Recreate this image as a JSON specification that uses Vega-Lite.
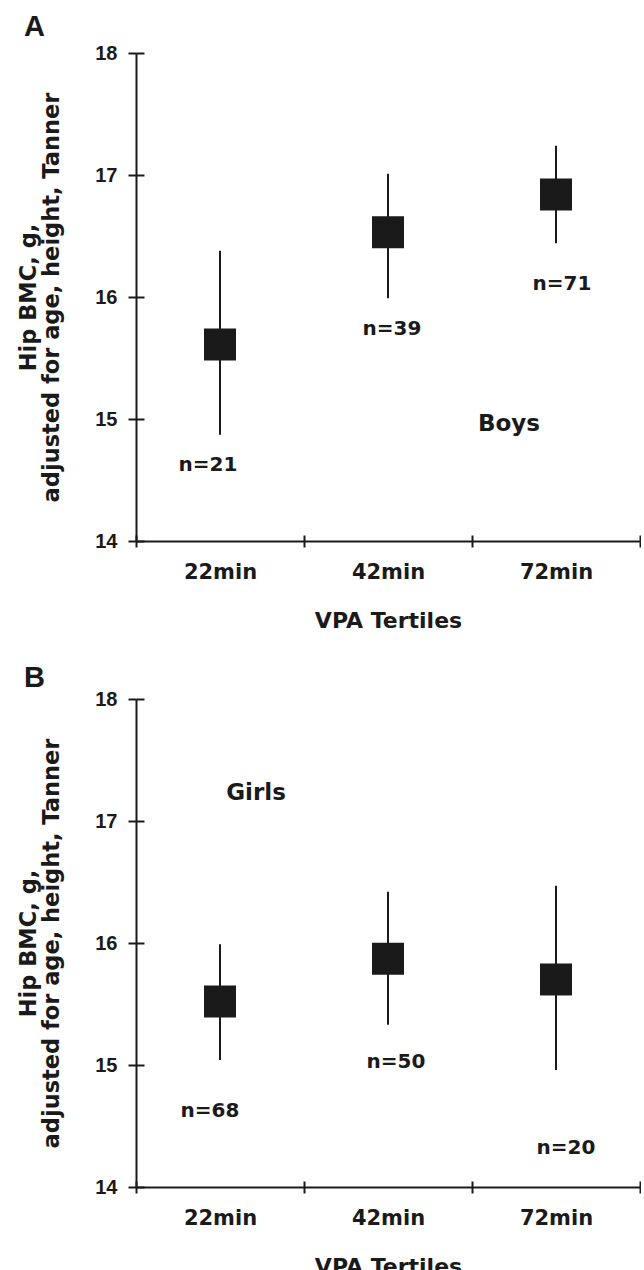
{
  "$schema": "https://vega.github.io/schema/vega-lite/v6.json",
  "padding": {"left": 17, "top": 13, "right": 0, "bottom": 0},
  "background": "white",
  "datasets": {
    "boys": [
      {"tertile": "22min", "mean": 15.61, "lower": 14.87, "upper": 16.38, "label": "n=21"},
      {"tertile": "42min", "mean": 16.53, "lower": 15.99, "upper": 17.01, "label": "n=39"},
      {"tertile": "72min", "mean": 16.84, "lower": 16.44, "upper": 17.24, "label": "n=71"}
    ],
    "girls": [
      {"tertile": "22min", "mean": 15.52, "lower": 15.04, "upper": 15.99, "label": "n=68"},
      {"tertile": "42min", "mean": 15.87, "lower": 15.33, "upper": 16.42, "label": "n=50"},
      {"tertile": "72min", "mean": 15.70, "lower": 14.96, "upper": 16.47, "label": "n=20"}
    ]
  },
  "config": {
    "view": {"stroke": null},
    "axis": {
      "grid": false,
      "domainColor": "#1a1a1a",
      "domainWidth": 2,
      "tickColor": "#1a1a1a",
      "tickWidth": 2,
      "labelColor": "#1a1a1a",
      "titleColor": "#1a1a1a",
      "titleFont": "DejaVu Sans",
      "titleFontWeight": "bold"
    },
    "text": {"font": "DejaVu Sans", "fontWeight": "bold", "color": "#1a1a1a", "baseline": "middle", "align": "center"}
  },
  "spacing": 33,
  "vconcat": [
    {
      "title": {"text": "A", "anchor": "start", "frame": "group", "dx": -112, "offset": -22, "baseline": "alphabetic", "font": "Liberation Sans", "fontSize": 29, "fontWeight": "bold", "color": "#1a1a1a"},
      "width": 504,
      "height": 488,
      "data": {"name": "boys"},
      "resolve": {"axis": {"x": "independent", "y": "independent"}},
      "layer": [
        {
          "mark": {"type": "rule", "color": "#1a1a1a", "strokeWidth": 2},
          "encoding": {
            "x": {"field": "tertile", "type": "nominal", "sort": ["22min", "42min", "72min"], "scale": {"paddingInner": 0, "paddingOuter": 0},
              "axis": {"orient": "bottom", "title": "VPA Tertiles", "titleFontSize": 22, "titlePadding": 28, "labelAngle": 0, "labelFont": "DejaVu Sans", "labelFontWeight": "bold", "labelFontSize": 21, "labelPadding": 14, "tickSize": 6, "tickBand": "extent"}},
            "y": {"field": "lower", "type": "quantitative", "scale": {"domain": [14, 18], "nice": false, "zero": false},
              "axis": {"orient": "left", "values": [14, 15, 16, 17, 18], "format": "d", "title": ["Hip BMC, g,", "adjusted for age, height, Tanner"], "titleFontSize": 22.5, "titleLineHeight": 23, "titlePadding": 31, "labelFont": "Liberation Sans", "labelFontWeight": "bold", "labelFontSize": 20, "labelPadding": 11, "tickSize": 8}},
            "y2": {"field": "upper"}
          }
        },
        {
          "mark": {"type": "square", "size": 1024, "color": "#1a1a1a", "opacity": 1, "filled": true},
          "encoding": {
            "x": {"field": "tertile", "type": "nominal", "sort": ["22min", "42min", "72min"],
              "axis": {"orient": "bottom", "domain": false, "labels": false, "title": null, "tickSize": -6, "tickBand": "extent"}},
            "y": {"field": "mean", "type": "quantitative",
              "axis": {"orient": "left", "domain": false, "labels": false, "title": null, "values": [14, 15, 16, 17, 18], "tickSize": -8}}
          }
        },
        {
          "transform": [{"filter": "datum.tertile === '22min'"}],
          "mark": {"type": "text", "fontSize": 20, "dx": -12, "dy": 30},
          "encoding": {"x": {"field": "tertile", "type": "nominal", "axis": null}, "y": {"field": "lower", "type": "quantitative", "axis": null}, "text": {"field": "label"}}
        },
        {
          "transform": [{"filter": "datum.tertile === '42min'"}],
          "mark": {"type": "text", "fontSize": 20, "dx": 4, "dy": 31},
          "encoding": {"x": {"field": "tertile", "type": "nominal", "axis": null}, "y": {"field": "lower", "type": "quantitative", "axis": null}, "text": {"field": "label"}}
        },
        {
          "transform": [{"filter": "datum.tertile === '72min'"}],
          "mark": {"type": "text", "fontSize": 20, "dx": 6, "dy": 41},
          "encoding": {"x": {"field": "tertile", "type": "nominal", "axis": null}, "y": {"field": "lower", "type": "quantitative", "axis": null}, "text": {"field": "label"}}
        },
        {
          "data": {"values": [{"note": "Boys", "tertile": "72min", "value": 14.96}]},
          "mark": {"type": "text", "fontSize": 23, "dx": -47},
          "encoding": {"x": {"field": "tertile", "type": "nominal", "axis": null}, "y": {"field": "value", "type": "quantitative", "axis": null}, "text": {"field": "note"}}
        }
      ]
    },
    {
      "title": {"text": "B", "anchor": "start", "frame": "group", "dx": -112, "offset": -27, "baseline": "alphabetic", "font": "Liberation Sans", "fontSize": 29, "fontWeight": "bold", "color": "#1a1a1a"},
      "width": 504,
      "height": 488,
      "data": {"name": "girls"},
      "resolve": {"axis": {"x": "independent", "y": "independent"}},
      "layer": [
        {
          "mark": {"type": "rule", "color": "#1a1a1a", "strokeWidth": 2},
          "encoding": {
            "x": {"field": "tertile", "type": "nominal", "sort": ["22min", "42min", "72min"], "scale": {"paddingInner": 0, "paddingOuter": 0},
              "axis": {"orient": "bottom", "title": "VPA Tertiles", "titleFontSize": 22, "titlePadding": 28, "labelAngle": 0, "labelFont": "DejaVu Sans", "labelFontWeight": "bold", "labelFontSize": 21, "labelPadding": 14, "tickSize": 6, "tickBand": "extent"}},
            "y": {"field": "lower", "type": "quantitative", "scale": {"domain": [14, 18], "nice": false, "zero": false},
              "axis": {"orient": "left", "values": [14, 15, 16, 17, 18], "format": "d", "title": ["Hip BMC, g,", "adjusted for age, height, Tanner"], "titleFontSize": 22.5, "titleLineHeight": 23, "titlePadding": 31, "labelFont": "Liberation Sans", "labelFontWeight": "bold", "labelFontSize": 20, "labelPadding": 11, "tickSize": 8}},
            "y2": {"field": "upper"}
          }
        },
        {
          "mark": {"type": "square", "size": 1024, "color": "#1a1a1a", "opacity": 1, "filled": true},
          "encoding": {
            "x": {"field": "tertile", "type": "nominal", "sort": ["22min", "42min", "72min"],
              "axis": {"orient": "bottom", "domain": false, "labels": false, "title": null, "tickSize": -6, "tickBand": "extent"}},
            "y": {"field": "mean", "type": "quantitative",
              "axis": {"orient": "left", "domain": false, "labels": false, "title": null, "values": [14, 15, 16, 17, 18], "tickSize": -8}}
          }
        },
        {
          "transform": [{"filter": "datum.tertile === '22min'"}],
          "mark": {"type": "text", "fontSize": 20, "dx": -10, "dy": 51},
          "encoding": {"x": {"field": "tertile", "type": "nominal", "axis": null}, "y": {"field": "lower", "type": "quantitative", "axis": null}, "text": {"field": "label"}}
        },
        {
          "transform": [{"filter": "datum.tertile === '42min'"}],
          "mark": {"type": "text", "fontSize": 20, "dx": 8, "dy": 37},
          "encoding": {"x": {"field": "tertile", "type": "nominal", "axis": null}, "y": {"field": "lower", "type": "quantitative", "axis": null}, "text": {"field": "label"}}
        },
        {
          "transform": [{"filter": "datum.tertile === '72min'"}],
          "mark": {"type": "text", "fontSize": 20, "dx": 10, "dy": 78},
          "encoding": {"x": {"field": "tertile", "type": "nominal", "axis": null}, "y": {"field": "lower", "type": "quantitative", "axis": null}, "text": {"field": "label"}}
        },
        {
          "data": {"values": [{"note": "Girls", "tertile": "22min", "value": 17.23}]},
          "mark": {"type": "text", "fontSize": 23, "dx": 36},
          "encoding": {"x": {"field": "tertile", "type": "nominal", "axis": null}, "y": {"field": "value", "type": "quantitative", "axis": null}, "text": {"field": "note"}}
        }
      ]
    }
  ]
}
